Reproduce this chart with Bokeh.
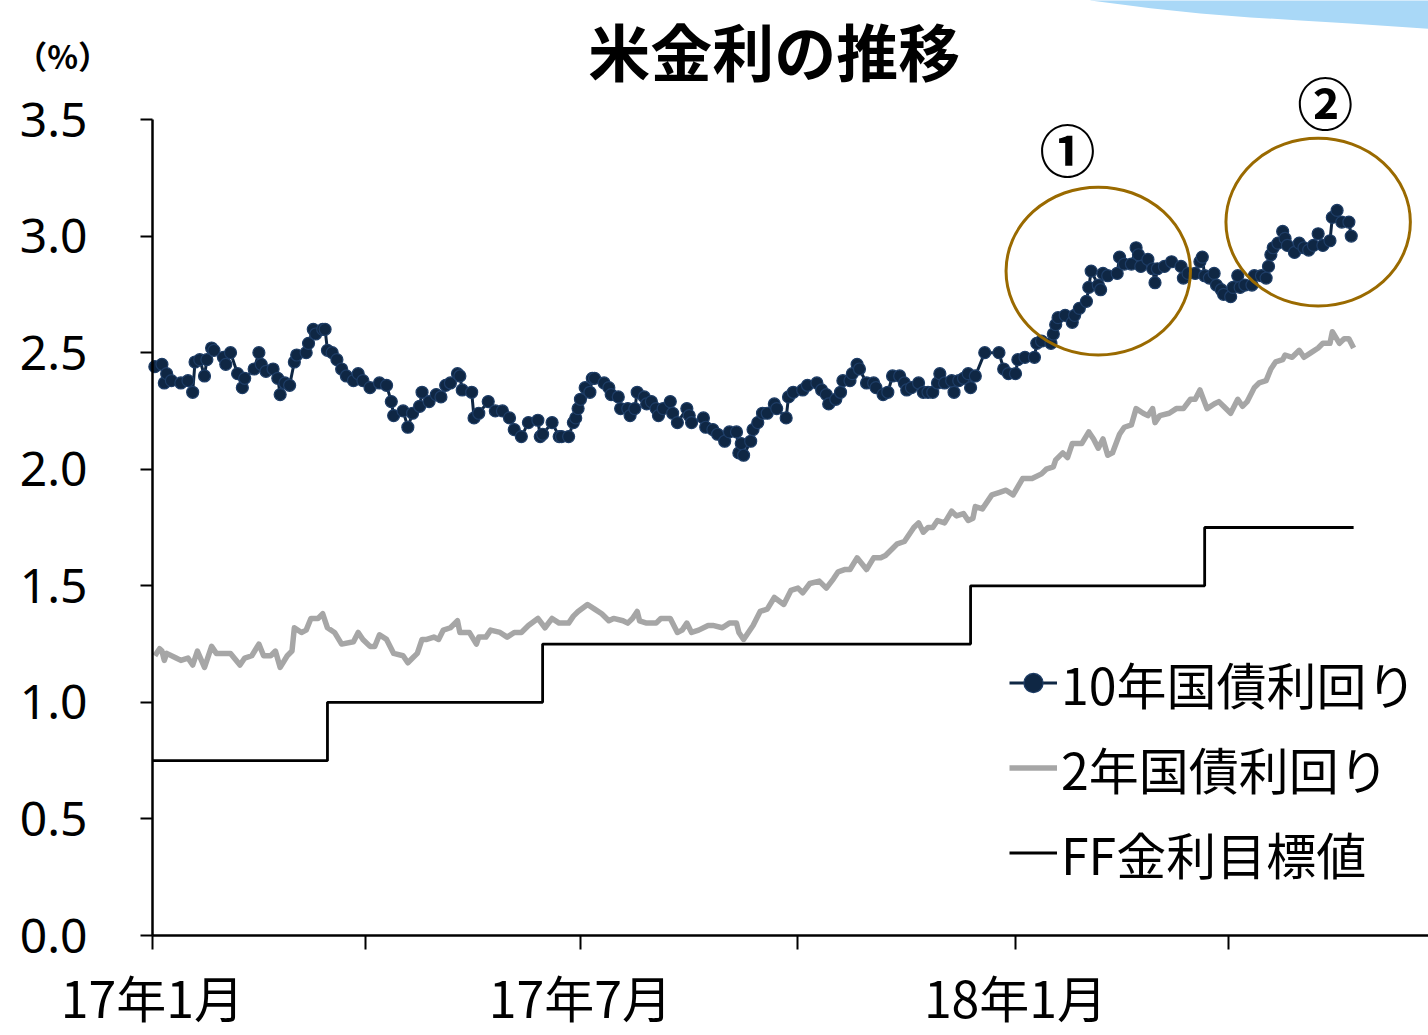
from bokeh.plotting import figure
from bokeh.models import (Range1d, FixedTicker, Label, Legend, LegendItem,
                          PolyAnnotation, NumeralTickFormatter)
from bokeh.embed import file_html
from bokeh.resources import INLINE

# ---- data (x = days since 2017-01-01) ----
t10 = [1, 4, 5, 6, 8, 12, 15, 17, 18, 20,
       22, 23, 25, 26, 30, 31, 33, 36, 38, 39,
       43, 45, 46, 48, 51, 53, 54, 56, 58, 60,
       61, 65, 66, 68, 69, 72, 73, 74, 76, 78,
       80, 82, 85, 87, 89, 92, 96, 99, 101, 102,
       106, 108, 110, 113, 114, 117, 120, 122, 124, 126,
       129, 130, 131, 135, 136, 138, 142, 145, 148, 151,
       153, 156, 159, 163, 164, 165, 169, 172, 173, 176,
       178, 179, 180, 181, 183, 185, 186, 187, 191, 193,
       194, 197, 198, 201, 202, 204, 205, 208, 209, 211,
       213, 214, 216, 219, 220, 222, 226, 227, 228, 233,
       234, 237, 239, 242, 244, 247, 248, 249, 250, 253,
       254, 256, 258, 260, 263, 264, 268, 269, 271, 275,
       277, 281, 283, 285, 286, 289, 291, 292, 295, 296,
       298, 299, 302, 305, 306, 309, 311, 313, 316, 318,
       319, 321, 324, 326, 328, 330, 332, 333, 335, 338,
       339, 341, 343, 345, 346, 348, 352, 358, 360, 362,
       365, 366, 369, 373, 374, 376, 380, 381, 382, 383,
       386, 389, 390, 392, 395, 396, 397, 400, 401, 402,
       404, 408, 409, 411, 414, 416, 417, 418, 421, 423,
       424, 425, 428, 431, 435, 436, 438, 441, 443, 444,
       445, 447, 449, 450, 452, 453, 456, 457, 459, 460,
       462, 465, 466, 469, 471, 472, 473, 474, 476, 478,
       479, 480, 483, 485, 487, 489, 491, 493, 495, 498,
       499, 501, 503, 506, 507]
y10 = [2.44, 2.45, 2.37, 2.41, 2.38, 2.37, 2.38, 2.33, 2.46, 2.47,
       2.40, 2.47, 2.52, 2.51, 2.48, 2.45, 2.50, 2.41, 2.35, 2.39,
       2.43, 2.50, 2.45, 2.42, 2.43, 2.39, 2.32, 2.37, 2.36, 2.46,
       2.49, 2.50, 2.54, 2.60, 2.58, 2.60, 2.60, 2.51, 2.50, 2.47,
       2.43, 2.40, 2.38, 2.41, 2.38, 2.35, 2.37, 2.36, 2.29, 2.23,
       2.25, 2.18, 2.24, 2.27, 2.33, 2.29, 2.32, 2.31, 2.36, 2.37,
       2.41, 2.40, 2.34, 2.33, 2.22, 2.24, 2.29, 2.25, 2.25, 2.22,
       2.17, 2.14, 2.20, 2.21, 2.14, 2.15, 2.20, 2.14, 2.14, 2.14,
       2.20, 2.22, 2.26, 2.30, 2.35, 2.33, 2.39, 2.39, 2.37, 2.35,
       2.32, 2.31, 2.26, 2.26, 2.23, 2.26, 2.33, 2.31, 2.28, 2.29,
       2.26, 2.23, 2.26, 2.29, 2.24, 2.20, 2.26, 2.23, 2.20, 2.22,
       2.18, 2.17, 2.15, 2.12, 2.16, 2.16, 2.07, 2.11, 2.06, 2.12,
       2.17, 2.20, 2.24, 2.24, 2.28, 2.26, 2.22, 2.31, 2.33, 2.34,
       2.36, 2.37, 2.34, 2.32, 2.28, 2.30, 2.33, 2.38, 2.38, 2.41,
       2.45, 2.43, 2.37, 2.37, 2.35, 2.32, 2.33, 2.40, 2.40, 2.37,
       2.34, 2.35, 2.37, 2.33, 2.33, 2.33, 2.37, 2.41, 2.37, 2.38,
       2.33, 2.38, 2.39, 2.41, 2.35, 2.40, 2.50, 2.50, 2.43, 2.41,
       2.41, 2.47, 2.48, 2.48, 2.54, 2.55, 2.54, 2.58, 2.62, 2.65,
       2.66, 2.63, 2.66, 2.69, 2.72, 2.78, 2.85, 2.79, 2.77, 2.84,
       2.83, 2.84, 2.91, 2.88, 2.88, 2.95, 2.92, 2.87, 2.90, 2.86,
       2.80, 2.86, 2.87, 2.89, 2.87, 2.82, 2.84, 2.84, 2.89, 2.91,
       2.83, 2.82, 2.84, 2.79, 2.77, 2.75, 2.74, 2.78, 2.83, 2.78,
       2.79, 2.79, 2.83, 2.83, 2.82, 2.87, 2.92, 2.95, 2.97, 3.02,
       2.99, 2.96, 2.93, 2.97, 2.95, 2.94, 2.96, 3.01, 2.96, 2.98,
       3.08, 3.11, 3.06, 3.06, 3.00]

t2 = [1, 3, 4, 5, 6, 10, 12, 15, 17, 19,
      22, 25, 27, 30, 33, 37, 39, 42, 45, 47,
      50, 52, 54, 57, 59, 60, 63, 65, 67, 70,
      72, 74, 77, 80, 85, 87, 89, 92, 94, 96,
      99, 102, 106, 108, 110, 112, 114, 116, 119, 121,
      123, 126, 129, 130, 134, 137, 138, 141, 143, 147,
      150, 153, 156, 159, 163, 166, 169, 172, 176, 178,
      180, 184, 187, 190, 193, 195, 199, 201, 203, 205,
      206, 209, 213, 215, 219, 222, 224, 226, 228, 231,
      235, 237, 241, 244, 247, 248, 250, 254, 257, 260,
      263, 267, 270, 273, 275, 278, 282, 285, 288, 290,
      293, 295, 298, 302, 305, 308, 310, 313, 315, 318,
      320, 322, 324, 326, 328, 330, 332, 335, 338, 340,
      343, 345, 347, 348, 351, 355, 358, 361, 364, 368,
      372, 376, 378, 381, 382, 385, 387, 389, 393, 396,
      398, 400, 402, 404, 406, 409, 411, 414, 416, 419,
      421, 423, 424, 426, 430, 433, 436, 439, 441, 443,
      446, 449, 451, 453, 456, 459, 461, 463, 466, 468,
      471, 473, 475, 478, 479, 482, 485, 487, 490, 493,
      495, 498, 499, 502, 504, 506, 508]
y2 = [1.20, 1.23, 1.22, 1.18, 1.21, 1.19, 1.18, 1.19, 1.16, 1.22,
      1.15, 1.24, 1.21, 1.21, 1.21, 1.16, 1.19, 1.20, 1.25, 1.20,
      1.20, 1.22, 1.15, 1.20, 1.22, 1.32, 1.30, 1.31, 1.36, 1.36,
      1.38, 1.32, 1.30, 1.25, 1.26, 1.30, 1.27, 1.24, 1.24, 1.29,
      1.27, 1.21, 1.20, 1.17, 1.19, 1.21, 1.27, 1.27, 1.28, 1.27,
      1.31, 1.32, 1.35, 1.30, 1.30, 1.25, 1.28, 1.28, 1.31, 1.30,
      1.28, 1.30, 1.30, 1.33, 1.36, 1.32, 1.36, 1.34, 1.34, 1.37,
      1.39, 1.42, 1.40, 1.38, 1.35, 1.36, 1.35, 1.34, 1.36, 1.39,
      1.35, 1.34, 1.34, 1.36, 1.36, 1.30, 1.31, 1.34, 1.30, 1.31,
      1.33, 1.33, 1.32, 1.34, 1.34, 1.30, 1.27, 1.33, 1.39, 1.40,
      1.45, 1.42, 1.48, 1.49, 1.47, 1.51, 1.52, 1.49, 1.53, 1.56,
      1.57, 1.57, 1.62, 1.57, 1.62, 1.62, 1.63, 1.66, 1.68, 1.69,
      1.72, 1.75, 1.77, 1.73, 1.75, 1.75, 1.78, 1.77, 1.82, 1.80,
      1.81, 1.78, 1.79, 1.84, 1.83, 1.89, 1.90, 1.91, 1.89, 1.96,
      1.96, 1.98, 2.00, 2.01, 2.04, 2.07, 2.05, 2.11, 2.11, 2.16,
      2.13, 2.09, 2.13, 2.06, 2.07, 2.15, 2.18, 2.19, 2.26, 2.24,
      2.23, 2.26, 2.20, 2.23, 2.24, 2.26, 2.26, 2.30, 2.30, 2.34,
      2.26, 2.28, 2.29, 2.27, 2.24, 2.30, 2.27, 2.29, 2.35, 2.37,
      2.38, 2.43, 2.46, 2.47, 2.49, 2.48, 2.51, 2.48, 2.50, 2.52,
      2.54, 2.54, 2.59, 2.54, 2.56, 2.56, 2.52]

ff_dates = [0, 74, 165, 346, 445, 508]
ff_rate = [0.75, 1.00, 1.25, 1.50, 1.75, 1.75]

x_ticks = [0, 90, 181, 273, 365, 455]
x_tick_labels = ["17年1月", "", "17年7月", "", "18年1月", ""]
y_ticks = [0.0, 0.5, 1.0, 1.5, 2.0, 2.5, 3.0, 3.5]

series_names = ["10年国債利回り", "2年国債利回り", "FF金利目標値"]
title_text = "米金利の推移"
unit_text = "（%）"

# highlighted periods (centre day, centre rate, span in days, span in %)
hl_x = [400, 493]
hl_y = [2.85, 3.06]
hl_w = [78, 78]
hl_h = [0.72, 0.72]
hl_marks = ["①", "②"]
hl_mark_x = [387, 496]
hl_mark_y = [3.38, 3.58]

JP = "Noto Sans CJK JP"
NAVY = "#0f2744"
GOLD = "#9a6a00"

X_END = 539.67
p = figure(width=1428, height=1035, output_backend="svg", toolbar_location=None,
           x_range=Range1d(-64.28, X_END), y_range=Range1d(-0.4289, 4.0105),
           min_border=0)
p.outline_line_color = None
p.grid.grid_line_color = None
p.background_fill_color = "white"
p.border_fill_color = "white"

# axes, pinned at the data origin
p.xaxis.fixed_location = 0
p.yaxis.fixed_location = 0
p.xaxis.bounds = (0, X_END)
p.yaxis.bounds = (0, 3.5)

p.xaxis.ticker = FixedTicker(ticks=x_ticks, minor_ticks=[])
p.xaxis.major_label_overrides = {t: l for t, l in zip(x_ticks, x_tick_labels)}
p.xaxis.major_label_text_font = JP
p.xaxis.major_label_text_font_size = "50px"
p.xaxis.major_label_text_color = "black"
p.xaxis.major_label_standoff = 10
p.xaxis.major_tick_in = 0
p.xaxis.major_tick_out = 14
p.xaxis.minor_tick_line_color = None

p.yaxis.ticker = FixedTicker(ticks=y_ticks, minor_ticks=[])
p.yaxis.formatter = NumeralTickFormatter(format="0.0")
p.yaxis.major_label_text_font = "Noto Sans"
p.yaxis.major_label_text_font_size = "48px"
p.yaxis.major_label_text_color = "black"
p.yaxis.major_label_standoff = 53
p.yaxis.major_tick_in = 0
p.yaxis.major_tick_out = 12
p.yaxis.minor_tick_line_color = None
for ax in (p.xaxis, p.yaxis):
    ax.axis_line_width = 2.5
    ax.axis_line_color = "black"
    ax.major_tick_line_width = 2
    ax.major_tick_line_color = "black"

# decorative light-blue arc at the top right
p.add_layout(PolyAnnotation(
    xs=[396.7, 422.1, 443.2, 464.4, 485.5, 506.7, 545, 545, 396.7],
    ys=[4.011, 3.977, 3.955, 3.938, 3.925, 3.912, 3.885, 4.2, 4.2],
    fill_color="#a9d8f7", fill_alpha=1.0, line_color=None, level="underlay"))

# series
r_ff = p.step(ff_dates, ff_rate, mode="after", line_color="black", line_width=2.8)
r_2 = p.line(t2, y2, line_color="#a6a6a6", line_width=5.5, line_join="round")
r_10l = p.line(t10, y10, line_color=NAVY, line_width=3)
r_10s = p.scatter(t10, y10, size=12, fill_color=NAVY, line_color="#1e3d66",
                  line_width=1.2)

# highlight ellipses
p.ellipse(hl_x, hl_y, width=hl_w, height=hl_h, fill_color=None,
          line_color=GOLD, line_width=3)
for mx, my, mk in zip(hl_mark_x, hl_mark_y, hl_marks):
    p.add_layout(Label(x=mx, y=my, text=mk, text_font=JP,
                       text_font_size="56px", text_font_style="bold",
                       text_align="center", text_baseline="middle",
                       text_color="black"))

# title and unit
p.add_layout(Label(x=263, y=3.80, text=title_text, text_font=JP,
                   text_font_size="62px", text_font_style="bold",
                   text_align="center", text_baseline="middle",
                   text_color="black"))
p.add_layout(Label(x=-38, y=3.775, text=unit_text, text_font=JP,
                   text_font_size="32px", text_font_style="bold",
                   text_align="center", text_baseline="middle",
                   text_color="black"))

legend = Legend(items=[
    LegendItem(label=series_names[0], renderers=[r_10l, r_10s]),
    LegendItem(label=series_names[1], renderers=[r_2]),
    LegendItem(label=series_names[2], renderers=[r_ff]),
], location=(1009, 140))
legend.label_text_font = JP
legend.label_text_font_size = "50px"
legend.label_text_color = "black"
legend.glyph_width = 48
legend.glyph_height = 85
legend.label_height = 85
legend.label_standoff = 4
legend.spacing = 0
legend.padding = 0
legend.margin = 0
legend.border_line_color = None
legend.background_fill_alpha = 0
p.add_layout(legend)

open("out.html", "w").write(file_html(p, INLINE))
